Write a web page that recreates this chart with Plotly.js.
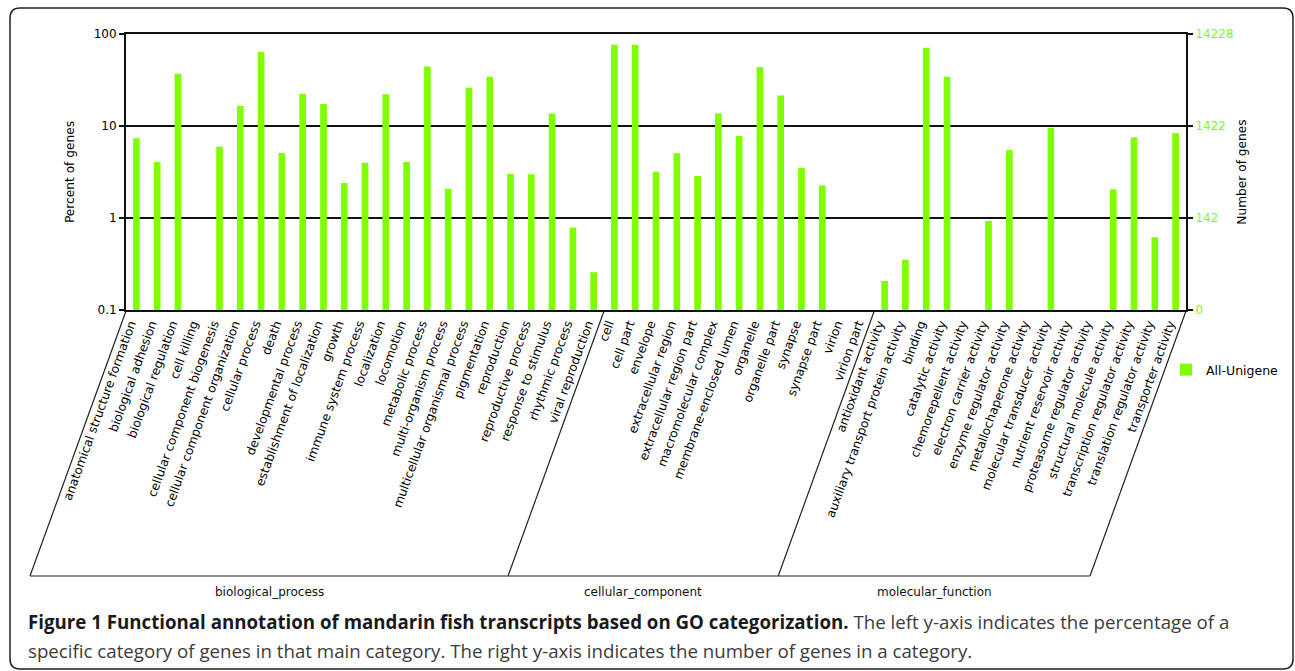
<!DOCTYPE html>
<html>
<head>
<meta charset="utf-8">
<script src="https://cdn.plot.ly/plotly-3.0.1.min.js"></script>
<style>
  html, body { margin: 0; padding: 0; background: #fff; }
  #chart { width: 1295px; height: 671px; }
</style>
</head>
<body>
<div id="chart"></div>
<script>
// ---------------- data ----------------
const bpCategories = [
  "anatomical structure formation", "biological adhesion", "biological regulation", "cell killing",
  "cellular component biogenesis", "cellular component organization", "cellular process", "death",
  "developmental process", "establishment of localization", "growth", "immune system process",
  "localization", "locomotion", "metabolic process", "multi-organism process",
  "multicellular organismal process", "pigmentation", "reproduction", "reproductive process",
  "response to stimulus", "rhythmic process", "viral reproduction"
];
const bpPercent = [7.35, 4.06, 37.0, 0, 5.96, 16.5, 64.2, 5.09, 22.4, 17.3, 2.40, 3.99,
  22.1, 4.06, 44.2, 2.08, 26.1, 34.4, 3.03, 2.99, 13.7, 0.79, 0.257];

const ccCategories = [
  "cell", "cell part", "envelope", "extracellular region", "extracellular region part",
  "macromolecular complex", "membrane-enclosed lumen", "organelle", "organelle part",
  "synapse", "synapse part", "virion", "virion part"
];
const ccPercent = [76.5, 76.5, 3.19, 5.05, 2.86, 13.7, 7.79, 43.8, 21.4, 3.52, 2.26, 0, 0];

const mfCategories = [
  "antioxidant activity", "auxiliary transport protein activity", "binding", "catalytic activity",
  "chemorepellent activity", "electron carrier activity", "enzyme regulator activity",
  "metallochaperone activity", "molecular transducer activity", "nutrient reservoir activity",
  "proteasome regulator activity", "structural molecule activity", "transcription regulator activity",
  "translation regulator activity", "transporter activity"
];
const mfPercent = [0.207, 0.352, 71.0, 34.4, 0, 0.927, 5.48, 0, 9.59, 0, 0, 2.05, 7.53, 0.617, 8.39];

const groupNames = ["biological_process", "cellular_component", "molecular_function"];
const seriesName = "All-Unigene";

const leftTickVals = [0.1, 1, 10, 100];
const leftTickText = ["0.1", "1", "10", "100"];
const totalGenes = 14228;
const rightTickText = ["0", "142", "1422", "14228"];

const captionBold = "Figure 1 Functional annotation of mandarin fish transcripts based on GO categorization.";
const captionLine1 = " The left y-axis indicates the percentage of a";
const captionLine2 = "specific category of genes in that main category. The right y-axis indicates the number of genes in a category.";

// ---------------- geometry ----------------
const W = 1295, H = 671;
const ML = 126, MR = 109, MT = 34, MB = 361;
const PW = W - ML - MR, PH = H - MT - MB;
const px = v => (v - ML) / PW;          // pixel x -> paper x
const py = v => (MT + PH - v) / PH;     // pixel y -> paper y

const categories = bpCategories.concat(ccCategories, mfCategories);
const percents = bpPercent.concat(ccPercent, mfPercent);
const N = categories.length;
const groupSizes = [bpCategories.length, ccCategories.length, mfCategories.length];
const bounds = [0];
groupSizes.forEach(s => bounds.push(bounds[bounds.length - 1] + s));

const slantDX = -96 / PW;     // paper
const slantDY = -266 / PH;    // paper
const lineColor = "#222";

const shapes = [];
bounds.forEach(b => {
  shapes.push({
    type: "line", xref: "paper", yref: "paper",
    x0: b / N, y0: -1 / PH, x1: b / N + slantDX, y1: slantDY,
    line: { color: lineColor, width: 1.2 }
  });
});
shapes.push({
  type: "line", xref: "paper", yref: "paper",
  x0: slantDX, y0: slantDY, x1: 1 + slantDX, y1: slantDY,
  line: { color: lineColor, width: 1.2 }
});
// rounded outer frame
(function () {
  const L = 10, R = 1293, T = 8, B = 669, r = 10;
  const p = (x, y) => px(x) + "," + py(y);
  const path = "M " + p(L + r, T) + " L " + p(R - r, T) + " Q " + p(R, T) + " " + p(R, T + r) +
    " L " + p(R, B - r) + " Q " + p(R, B) + " " + p(R - r, B) +
    " L " + p(L + r, B) + " Q " + p(L, B) + " " + p(L, B - r) +
    " L " + p(L, T + r) + " Q " + p(L, T) + " " + p(L + r, T) + " Z";
  shapes.push({ type: "path", xref: "paper", yref: "paper", path: path,
    line: { color: lineColor, width: 1.5 }, fillcolor: "rgba(0,0,0,0)" });
})();

const annotations = [];
groupNames.forEach((g, i) => {
  const mid = (bounds[i] + bounds[i + 1]) / 2 / N + slantDX;
  annotations.push({
    text: g, xref: "paper", yref: "paper", x: mid, y: py(592),
    xanchor: "center", yanchor: "middle", showarrow: false,
    font: { family: "DejaVu Sans", size: 12, color: "#111" }
  });
});
annotations.push({
  text: '<span style="font-weight:bold;color:#1a1a1a">' + captionBold + '</span>' + captionLine1,
  xref: "paper", yref: "paper", x: px(26), y: py(622), xanchor: "left", yanchor: "middle",
  showarrow: false, align: "left",
  font: { family: "Open Sans", size: 18.7, color: "#3c3c3c" }
});
annotations.push({
  text: captionLine2,
  xref: "paper", yref: "paper", x: px(26), y: py(650), xanchor: "left", yanchor: "middle",
  showarrow: false, align: "left",
  font: { family: "Open Sans", size: 18.7, color: "#3c3c3c" }
});

const green = "#80FF00";

const traces = [
  {
    type: "bar", name: seriesName, x: categories, y: percents,
    marker: { color: green, line: { width: 0 } },
    hoverinfo: "x+y"
  },
  { type: "bar", x: [], y: [], yaxis: "y2", showlegend: false, hoverinfo: "skip" }
];

const layout = {
  width: W, height: H,
  margin: { l: ML, r: MR, t: MT, b: MB, pad: 0, autoexpand: false },
  paper_bgcolor: "#fff", plot_bgcolor: "#fff",
  font: { family: "DejaVu Sans", size: 12, color: "#000" },
  bargap: 0.68,
  showlegend: true,
  legend: {
    x: px(1166), y: py(370), xanchor: "left", yanchor: "middle",
    bgcolor: "rgba(0,0,0,0)", borderwidth: 0, itemwidth: 30,
    font: { family: "DejaVu Sans", size: 12.5, color: "#000" }
  },
  xaxis: {
    type: "category", tickmode: "linear", tick0: 0, dtick: 1,
    range: [-0.5, N - 0.5], fixedrange: true, automargin: false,
    showline: true, linecolor: "#111", linewidth: 2, mirror: true,
    showgrid: false, ticks: "", tickangle: -70,
    ticklabelshift: -6, ticklabelstandoff: 0,
    tickfont: { family: "DejaVu Sans", size: 12.2, color: "#000" }
  },
  yaxis: {
    type: "log", range: [-1, 2], tickmode: "array", automargin: false,
    tickvals: leftTickVals, ticktext: leftTickText,
    showline: true, linecolor: "#111", linewidth: 2,
    showgrid: true, gridcolor: "#111", gridwidth: 2, zeroline: false,
    ticks: "outside", ticklen: 5, tickwidth: 2, tickcolor: "#111",
    tickfont: { family: "DejaVu Sans", size: 12, color: "#000" },
    title: { text: "Percent of genes", standoff: 16,
      font: { family: "DejaVu Sans", size: 12.2, color: "#000" } }
  },
  yaxis2: {
    type: "log", overlaying: "y", side: "right", automargin: false,
    range: [Math.log10(totalGenes * leftTickVals[0] / 100), Math.log10(totalGenes * leftTickVals[3] / 100)],
    tickmode: "array",
    tickvals: leftTickVals.map(v => totalGenes * v / 100),
    ticktext: rightTickText,
    showline: true, linecolor: "#111", linewidth: 2,
    showgrid: false, zeroline: false,
    ticks: "outside", ticklen: 5, tickwidth: 2, tickcolor: "#111",
    tickfont: { family: "DejaVu Sans", size: 12, color: green },
    title: { text: "Number of genes", standoff: 5,
      font: { family: "DejaVu Sans", size: 12.2, color: "#000" } }
  },
  shapes: shapes,
  annotations: annotations
};

Plotly.newPlot("chart", traces, layout, { displayModeBar: false, staticPlot: true });
</script>
</body>
</html>
